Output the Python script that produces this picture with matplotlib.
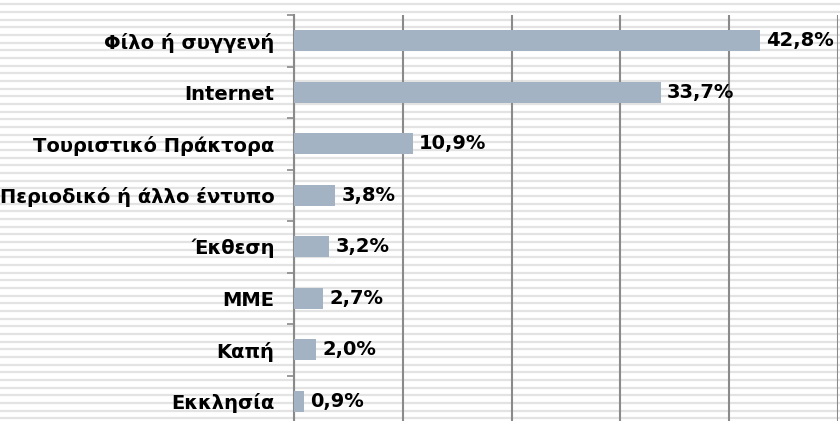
import numpy as np
import matplotlib
matplotlib.use('Agg')
from matplotlib import pyplot as plt

# sources of information (percent of respondents)
categories = ['Φίλο ή συγγενή', 'Internet', 'Τουριστικό Πράκτορα',
              'Περιοδικό ή άλλο έντυπο', 'Έκθεση', 'ΜΜΕ', 'Καπή', 'Εκκλησία']
values = [42.8, 33.7, 10.9, 3.8, 3.2, 2.7, 2.0, 0.9]
value_labels = ['42,8%', '33,7%', '10,9%', '3,8%', '3,2%', '2,7%', '2,0%', '0,9%']

W, H = 840, 421
fig = plt.figure(figsize=(W / 100, H / 100), dpi=100)

# striped background over the whole picture
bg = fig.add_axes([0, 0, 1, 1])
bg.set_xlim(0, W)
bg.set_ylim(H, 0)
bg.axis('off')
for y in np.arange(4.3, H, 7.67):
    bg.axhline(y, color='#e3e3e3', lw=1.6, zorder=0)

ax = fig.add_axes([294 / W, -6 / H, (838 - 294) / W, 412 / H])
ax.set_facecolor('none')
ax.set_zorder(2)

y = np.arange(len(categories))
ax.barh(y, values, height=0.41, color='#a4b3c3', zorder=3)
ax.set_xlim(0, 50)
ax.set_ylim(len(categories) - 0.5, -0.5)

for yi, v, lab in zip(y, values, value_labels):
    ax.text(v + 0.6, yi, lab, va='center', ha='left', fontsize=14,
            fontweight='bold', color='black', zorder=4)

ax.set_xticks([0, 10, 20, 30, 40, 50])
ax.set_xticklabels([])
ax.tick_params(axis='x', length=0)
ax.grid(axis='x', color='#8a8a8a', lw=1.5, zorder=1)

ax.set_yticks(y)
ax.set_yticklabels(categories, fontsize=14, fontweight='bold')
ax.set_yticks(np.arange(-0.5, len(categories), 1), minor=True)
ax.tick_params(axis='y', which='major', length=0, pad=14)
ax.tick_params(axis='y', which='minor', length=5, width=1.2, color='#8a8a8a', direction='out')

for s in ['top', 'right', 'bottom']:
    ax.spines[s].set_visible(False)
ax.spines['left'].set_color('#8a8a8a')
ax.spines['left'].set_linewidth(1.5)

fig.savefig('out.png', dpi=100)
